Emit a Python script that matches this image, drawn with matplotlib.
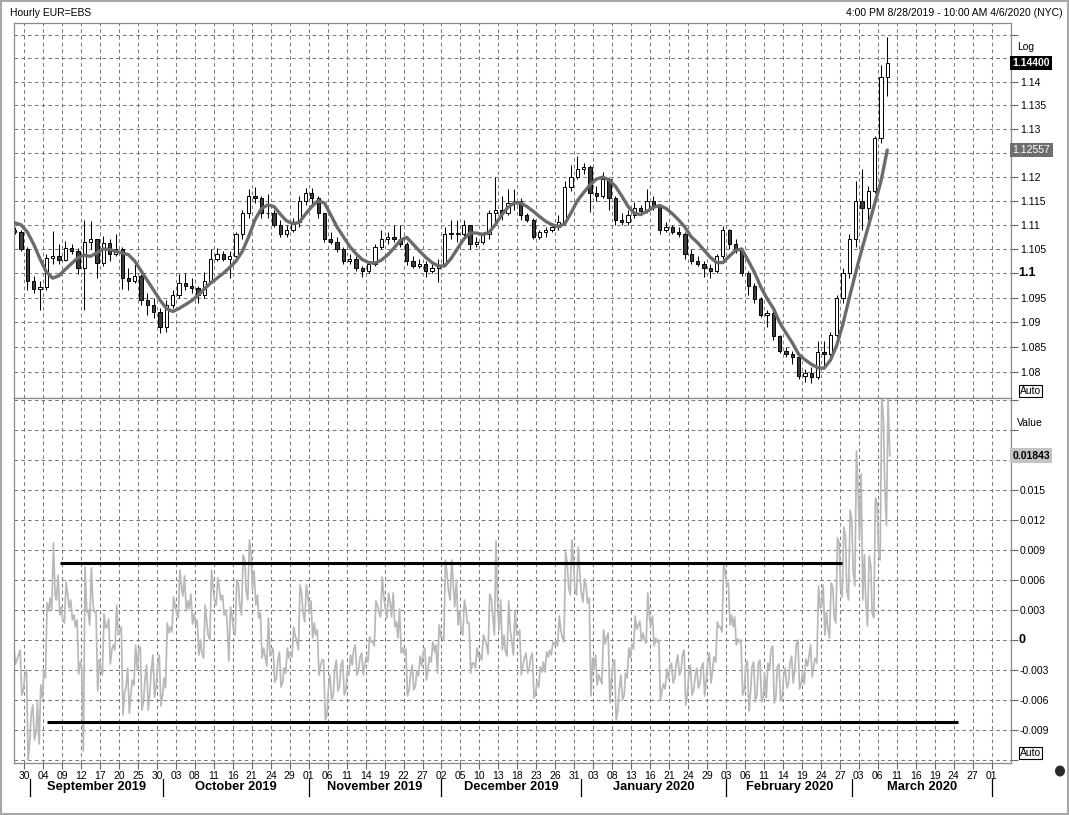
import numpy as np
import pandas as pd
import matplotlib
matplotlib.use("Agg")
import matplotlib.pyplot as plt
from matplotlib.transforms import blended_transform_factory
from matplotlib.ticker import FixedLocator, NullLocator, FixedFormatter
from matplotlib.patches import Rectangle, Ellipse

plt.rcParams['font.family'] = ['Liberation Sans', 'DejaVu Sans']

# ---------------- data ----------------
title_left = "Hourly EUR=EBS"
title_right = "4:00 PM 8/28/2019 - 10:00 AM 4/6/2020 (NYC)"

data_start, data_end = "2019-08-28", "2020-03-09"
axis_end = "2020-04-06"

opens = [
    1.1090, 1.1085, 1.1050, 1.0985, 1.0968, 1.0972, 1.1032, 1.1035, 1.1028, 1.1052,
    1.1045, 1.1010, 1.1065, 1.1070, 1.1022, 1.1062, 1.1040, 1.1050, 1.0990, 1.0985,
    1.0995, 1.0945, 1.0935, 1.0920, 1.0890, 1.0935, 1.0955, 1.0980, 1.0975, 1.0970,
    1.0955, 1.0985, 1.1030, 1.1040, 1.1030, 1.1035, 1.1080, 1.1125, 1.1160, 1.1155,
    1.1125, 1.1125, 1.1100, 1.1080, 1.1090, 1.1105, 1.1150, 1.1165, 1.1155, 1.1125,
    1.1070, 1.1065, 1.1050, 1.1025, 1.1030, 1.1010, 1.1005, 1.1020, 1.1055, 1.1070,
    1.1075, 1.1070, 1.1060, 1.1025, 1.1015, 1.1020, 1.1005, 1.1010, 1.1018, 1.1080,
    1.1083, 1.1080, 1.1100, 1.1060, 1.1065, 1.1080, 1.1125, 1.1130, 1.1125, 1.1145,
    1.1150, 1.1120, 1.1110, 1.1075, 1.1085, 1.1090, 1.1095, 1.1105, 1.1178, 1.1200,
    1.1215, 1.1220, 1.1165, 1.1160, 1.1195, 1.1155, 1.1110, 1.1105, 1.1120, 1.1135,
    1.1128, 1.1150, 1.1138, 1.1090, 1.1095, 1.1085, 1.1080, 1.1040, 1.1025, 1.1020,
    1.1010, 1.1005, 1.1035, 1.1090, 1.1060, 1.1048, 1.1000, 1.0975, 1.0948, 1.0915,
    1.0918, 1.0872, 1.0842, 1.0835, 1.0830, 1.0792, 1.0798, 1.0790, 1.0840, 1.0835,
    1.0875, 1.0950, 1.1000, 1.1070, 1.1150, 1.1135, 1.1170, 1.1280, 1.1410,
]
highs = [
    1.1096, 1.1090, 1.1055, 1.0995, 1.0985, 1.1040, 1.1087, 1.1060, 1.1066, 1.1060,
    1.1052, 1.1110, 1.1107, 1.1070, 1.1076, 1.1070, 1.1080, 1.1055, 1.1010, 1.1020,
    1.0998, 1.0960, 1.0950, 1.0930, 1.0945, 1.0965, 1.0998, 1.1000, 1.0990, 1.0975,
    1.1003, 1.1050, 1.1052, 1.1045, 1.1045, 1.1085, 1.1130, 1.1175, 1.1179, 1.1160,
    1.1163, 1.1130, 1.1110, 1.1100, 1.1115, 1.1160, 1.1177, 1.1177, 1.1160, 1.1125,
    1.1085, 1.1075, 1.1055, 1.1040, 1.1035, 1.1015, 1.1025, 1.1060, 1.1090, 1.1085,
    1.1099, 1.1099, 1.1065, 1.1035, 1.1030, 1.1025, 1.1020, 1.1030, 1.1095, 1.1110,
    1.1110, 1.1110, 1.1100, 1.1075, 1.1085, 1.1130, 1.1199, 1.1160, 1.1175, 1.1175,
    1.1155, 1.1125, 1.1115, 1.1090, 1.1095, 1.1098, 1.1120, 1.1190, 1.1225, 1.1243,
    1.1228, 1.1225, 1.1180, 1.1209, 1.1200, 1.1160, 1.1125, 1.1130, 1.1148, 1.1140,
    1.1175, 1.1160, 1.1140, 1.1105, 1.1100, 1.1095, 1.1085, 1.1050, 1.1035, 1.1025,
    1.1020, 1.1040, 1.1098, 1.1092, 1.1070, 1.1050, 1.1005, 1.0980, 1.0952, 1.0925,
    1.0922, 1.0875, 1.0850, 1.0842, 1.0835, 1.0805, 1.0810, 1.0862, 1.0862, 1.0880,
    1.0955, 1.1010, 1.1080, 1.1190, 1.1216, 1.1180, 1.1285, 1.1435, 1.1496,
]
lows = [
    1.1080, 1.1045, 1.0965, 1.0960, 1.0926, 1.0965, 1.1020, 1.1020, 1.1025, 1.1040,
    1.0998, 1.0926, 1.1050, 1.0991, 1.1015, 1.1025, 1.1035, 1.0967, 1.0965, 1.0980,
    1.0935, 1.0915, 1.0908, 1.0879, 1.0880, 1.0930, 1.0950, 1.0965, 1.0960, 1.0940,
    1.0950, 1.0980, 1.1025, 1.1025, 1.0991, 1.1030, 1.1070, 1.1115, 1.1145, 1.1115,
    1.1115, 1.1096, 1.1075, 1.1075, 1.1085, 1.1095, 1.1140, 1.1140, 1.1115, 1.1065,
    1.1060, 1.1044, 1.1020, 1.1020, 1.1005, 1.0993, 1.1000, 1.1015, 1.1050, 1.1060,
    1.1065, 1.1055, 1.1018, 1.1010, 1.1010, 1.0993, 1.1000, 1.0982, 1.1015, 1.1070,
    1.1065, 1.1075, 1.1050, 1.1055, 1.1060, 1.1070, 1.1105, 1.1110, 1.1120, 1.1130,
    1.1110, 1.1105, 1.1070, 1.1070, 1.1075, 1.1085, 1.1090, 1.1100, 1.1170, 1.1195,
    1.1205, 1.1127, 1.1150, 1.1155, 1.1130, 1.1100, 1.1100, 1.1100, 1.1115, 1.1120,
    1.1125, 1.1130, 1.1080, 1.1085, 1.1080, 1.1075, 1.1030, 1.1020, 1.1015, 1.0992,
    1.0990, 1.1000, 1.1030, 1.1050, 1.1042, 1.0995, 1.0955, 1.0940, 1.0910, 1.0890,
    1.0865, 1.0838, 1.0830, 1.0815, 1.0786, 1.0780, 1.0778, 1.0785, 1.0812, 1.0825,
    1.0870, 1.0940, 1.0990, 1.1055, 1.1090, 1.1110, 1.1165, 1.1270, 1.1370,
]
closes = [
    1.1085, 1.1050, 1.0985, 1.0968, 1.0972, 1.1032, 1.1035, 1.1028, 1.1052, 1.1045,
    1.1010, 1.1065, 1.1070, 1.1022, 1.1062, 1.1040, 1.1050, 1.0990, 1.0985, 1.0995,
    1.0945, 1.0935, 1.0920, 1.0890, 1.0935, 1.0955, 1.0980, 1.0975, 1.0970, 1.0955,
    1.0985, 1.1030, 1.1040, 1.1030, 1.1035, 1.1080, 1.1125, 1.1160, 1.1155, 1.1125,
    1.1125, 1.1100, 1.1080, 1.1090, 1.1105, 1.1150, 1.1165, 1.1155, 1.1125, 1.1070,
    1.1065, 1.1050, 1.1025, 1.1030, 1.1010, 1.1005, 1.1020, 1.1055, 1.1070, 1.1075,
    1.1070, 1.1060, 1.1025, 1.1015, 1.1020, 1.1005, 1.1010, 1.1018, 1.1080, 1.1083,
    1.1080, 1.1100, 1.1060, 1.1065, 1.1080, 1.1125, 1.1130, 1.1125, 1.1145, 1.1150,
    1.1120, 1.1110, 1.1075, 1.1085, 1.1090, 1.1095, 1.1105, 1.1178, 1.1200, 1.1215,
    1.1220, 1.1165, 1.1160, 1.1195, 1.1155, 1.1110, 1.1105, 1.1120, 1.1135, 1.1128,
    1.1150, 1.1138, 1.1090, 1.1095, 1.1085, 1.1080, 1.1040, 1.1025, 1.1020, 1.1010,
    1.1005, 1.1035, 1.1090, 1.1060, 1.1048, 1.1000, 1.0975, 1.0948, 1.0915, 1.0918,
    1.0872, 1.0842, 1.0835, 1.0830, 1.0792, 1.0798, 1.0790, 1.0840, 1.0835, 1.0875,
    1.0950, 1.1000, 1.1070, 1.1150, 1.1135, 1.1170, 1.1280, 1.1410, 1.14400,
]
ma = [
    1.1104, 1.1100, 1.1085, 1.1060, 1.1030, 1.1003, 1.0990, 1.0995, 1.1008, 1.1020,
    1.1032, 1.1037, 1.1035, 1.1042, 1.1050, 1.1049, 1.1045, 1.1042, 1.1038, 1.1025,
    1.1005, 1.0985, 1.0965, 1.0945, 1.0928, 1.0922, 1.0928, 1.0936, 1.0944, 1.0955,
    1.0968, 1.0980, 1.0990, 1.1000, 1.1012, 1.1025, 1.1045, 1.1075, 1.1110, 1.1133,
    1.1141, 1.1138, 1.1122, 1.1108, 1.1102, 1.1105, 1.1122, 1.1138, 1.1150, 1.1145,
    1.1120, 1.1095, 1.1075, 1.1055, 1.1040, 1.1028, 1.1022, 1.1021, 1.1027, 1.1038,
    1.1052, 1.1068, 1.1074, 1.1060, 1.1046, 1.1033, 1.1022, 1.1015, 1.1015, 1.1030,
    1.1050, 1.1070, 1.1083, 1.1083, 1.1080, 1.1084, 1.1100, 1.1120, 1.1136, 1.1145,
    1.1145, 1.1138, 1.1128, 1.1117, 1.1107, 1.1100, 1.1096, 1.1102, 1.1125, 1.1150,
    1.1167, 1.1183, 1.1195, 1.1199, 1.1193, 1.1180, 1.1160, 1.1138, 1.1124, 1.1121,
    1.1128, 1.1136, 1.1140, 1.1134, 1.1123, 1.1110, 1.1095, 1.1075, 1.1063, 1.1048,
    1.1033, 1.1022, 1.1022, 1.1035, 1.1047, 1.1050, 1.1026, 1.1002, 1.0972, 1.0948,
    1.0928, 1.0899, 1.0878, 1.0858, 1.0835, 1.0824, 1.0815, 1.0808, 1.0807, 1.0823,
    1.0853, 1.0897, 1.0950, 1.1001, 1.1050, 1.1096, 1.1143, 1.1190, 1.12557,
]

# drawn trend lines in the lower panel (level, start day, end day)
band_levels = [0.0077, -0.0082]
band_start = [7.7, 5.6]
band_end = [131.3, 149.7]

price_ticks = [1.08, 1.085, 1.09, 1.095, 1.10, 1.105, 1.11, 1.115, 1.12, 1.125,
               1.13, 1.135, 1.14, 1.145, 1.15]
price_labels = ["1.08", "1.085", "1.09", "1.095", "", "1.105", "1.11", "1.115", "1.12", "",
                "1.13", "1.135", "1.14", "", ""]
osc_ticks = [-0.012, -0.009, -0.006, -0.003, 0.0, 0.003, 0.006, 0.009, 0.012, 0.015,
             0.018, 0.021, 0.024]
osc_labels = ["", "-0.009", "-0.006", "-0.003", "", "0.003", "0.006", "0.009", "0.012",
              "0.015", "", "", ""]

# ---------------- derived ----------------
opens = np.array(opens); highs = np.array(highs); lows = np.array(lows)
closes = np.array(closes); ma = np.array(ma)
n = len(closes)
days = np.arange(n)
xc = days + 0.5
all_dates = pd.bdate_range(data_start, axis_end)

# ---------------- figure ----------------
W, H = 1069, 815
fig = plt.figure(figsize=(W / 100, H / 100), dpi=100)
fig.patch.set_facecolor("white")

def fx(px):
    return px / W

def fy(py):
    return 1 - py / H

L, R = 14, 1011
T1, B1 = 23, 397.5
T2, B2 = 397.5, 763
ax1 = fig.add_axes([fx(L), fy(B1), (R - L) / W, (B1 - T1) / H])
ax2 = fig.add_axes([fx(L), fy(B2), (R - L) / W, (B2 - T2) / H])

grid_kw = dict(color="#7a7a7a", lw=0.75, ls=(0, (3.5, 3)), zorder=0.5)
xmin, xmax = 0.395, 158.07
tick_days = list(range(2, 156, 3))

for ax in (ax1, ax2):
    ax.set_xlim(xmin, xmax)
    for s in ax.spines.values():
        s.set_color("#8a8a8a")
        s.set_linewidth(0.9)
    for d in tick_days:
        ax.axvline(d, **grid_kw)
    ax.set_facecolor("white")

# ---- upper panel: candles + MA ----
ax1.set_yscale("log")
ax1.set_ylim(1.07482, 1.15255)
for p in price_ticks:
    ax1.axhline(p, **grid_kw)

up = closes >= opens
ax1.vlines(xc, lows, highs, color="black", lw=0.75, zorder=2)
body_lo = np.minimum(opens, closes)
body_hi = np.maximum(opens, closes)
ax1.bar(xc, body_hi - body_lo, bottom=body_lo, width=0.52,
        color=np.where(up, "white", "#3c3c3c"), edgecolor="black",
        linewidth=0.7, zorder=2.2)
ax1.plot(xc, ma, color="#6b6b6b", lw=2.4, solid_capstyle="round",
         solid_joinstyle="round", zorder=3)

ax1.yaxis.set_major_locator(FixedLocator(price_ticks))
ax1.yaxis.set_minor_locator(NullLocator())
ax1.yaxis.set_major_formatter(FixedFormatter(price_labels))
ax1.yaxis.set_minor_formatter(FixedFormatter([]))
ax1.tick_params(axis="y", which="both", left=False, labelleft=False, right=True,
                labelright=True, length=5, width=0.8, color="#666666",
                labelsize=7.5, pad=1.5)
ax1.tick_params(axis="x", which="both", bottom=False, labelbottom=False)
ax1.annotate("1.1", xy=(1, 1.10), xycoords=("axes fraction", "data"),
             xytext=(5.2, 0), textcoords="offset points", va="center", ha="left",
             fontsize=9, fontweight="bold")

# ---- lower panel: oscillator (close - MA) ----
ax2.set_ylim(-0.0123, 0.02425)
for v in osc_ticks:
    ax2.axhline(v, **grid_kw)

ox, oy = [], []
for i in range(n):
    if closes[i] >= opens[i]:
        seq = [opens[i], lows[i], highs[i], closes[i]]
    else:
        seq = [opens[i], highs[i], lows[i], closes[i]]
    for k, v in zip([0.1, 0.37, 0.63, 0.9], seq):
        ox.append(i + k)
        oy.append(v - ma[i])
ax2.plot(ox, oy, color="#b8b8b8", lw=1.25, zorder=2)
ax2.hlines(band_levels, band_start, band_end, color="black", lw=2.2, zorder=3)

ax2.yaxis.set_major_locator(FixedLocator(osc_ticks))
ax2.yaxis.set_major_formatter(FixedFormatter(osc_labels))
ax2.tick_params(axis="y", left=False, labelleft=False, right=True, labelright=True,
                length=5, width=0.8, color="#666666", labelsize=7.5, pad=1.5)
ax2.annotate("0", xy=(1, 0.0), xycoords=("axes fraction", "data"),
             xytext=(5.2, 0), textcoords="offset points", va="center", ha="left",
             fontsize=9, fontweight="bold")

ax2.xaxis.set_major_locator(FixedLocator(tick_days))
ax2.xaxis.set_major_formatter(FixedFormatter([all_dates[d].strftime("%d") for d in tick_days]))
ax2.tick_params(axis="x", length=4, width=0.8, color="#666666", labelsize=7.5, pad=1.5)

# month labels with separators
tr = blended_transform_factory(ax2.transData, fig.transFigure)
months = all_dates.to_period("M")
starts = [i for i in range(1, len(all_dates)) if months[i] != months[i - 1]]
for s in starts:
    ax2.plot([s, s], [fy(779), fy(796)], transform=tr, color="black", lw=0.9,
             clip_on=False)
for a, b in zip(starts[:-1], starts[1:]):
    ax2.text((a + b) / 2, fy(787), all_dates[a].strftime("%B %Y"), transform=tr,
             ha="center", va="center", fontsize=9.3, fontweight="bold")

# right-side value boxes
btr1 = blended_transform_factory(ax1.transAxes, ax1.transData)
btr2 = blended_transform_factory(ax2.transAxes, ax2.transData)
ax1.text(1.0015, closes[-1], f"{closes[-1]:.5f}", transform=btr1, ha="left", va="center",
         fontsize=7.5, fontweight="bold", color="white", zorder=6,
         bbox=dict(boxstyle="square,pad=0.22", fc="black", ec="none"))
ax1.text(1.0015, ma[-1], f"{ma[-1]:.5f}", transform=btr1, ha="left", va="center",
         fontsize=7.5, color="white", zorder=6,
         bbox=dict(boxstyle="square,pad=0.22", fc="#6e6e6e", ec="none"))
osc_last = closes[-1] - ma[-1]
ax2.text(1.0015, osc_last, f"{osc_last:.5f}", transform=btr2, ha="left", va="center",
         fontsize=7.5, fontweight="bold", color="black", zorder=6,
         bbox=dict(boxstyle="square,pad=0.22", fc="#c4c4c4", ec="none"))

# static chart texts
fig.text(fx(10), fy(13), title_left, fontsize=7.5, va="center", ha="left")
fig.text(fx(1063), fy(13), title_right, fontsize=7.5, va="center", ha="right")
fig.text(fx(1017), fy(47), "Log", fontsize=7.5, va="center", ha="left")
fig.text(fx(1017), fy(423), "Value", fontsize=7.5, va="center", ha="left")
for yy in (391, 753):
    fig.text(fx(1020), fy(yy), "Auto", fontsize=7.5, va="center", ha="left",
             bbox=dict(boxstyle="square,pad=0.12", fc="white", ec="black", lw=0.8))
fig.patches.append(Ellipse((fx(1060), fy(771)), 10 / W, 11 / H, transform=fig.transFigure,
                           fc="#2a2a2a", ec="none"))
fig.patches.append(Rectangle((0.001, 0.001), 0.998, 0.998, transform=fig.transFigure,
                             fill=False, ec="#a8a8a8", lw=1.5))

fig.savefig("out.png", dpi=100)
